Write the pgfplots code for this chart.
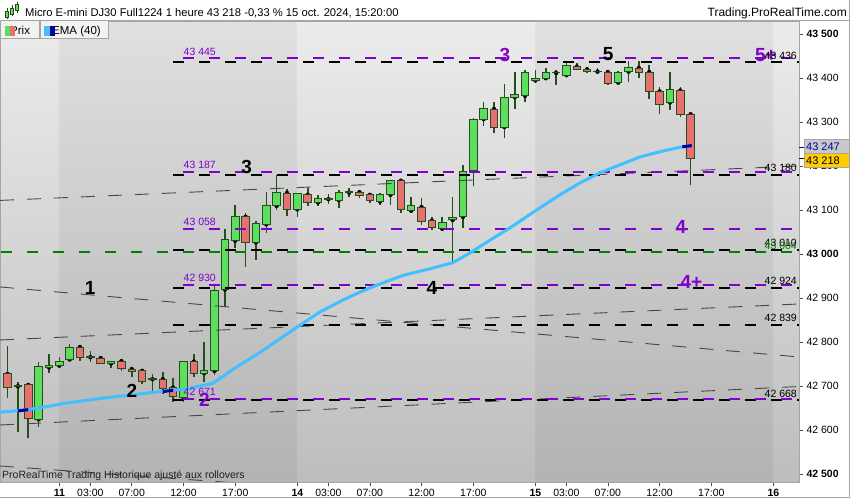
\documentclass[border=0pt]{standalone}
\usepackage{pgfplots}
\pgfplotsset{compat=1.18}
\usepackage{pgfplotstable}
\usepackage{fontspec}
\setmainfont{Liberation Sans}

\definecolor{upc}{RGB}{94,222,94}
\definecolor{dnc}{RGB}{232,112,112}
\definecolor{edgec}{RGB}{36,78,26}
\definecolor{purp}{RGB}{128,0,204}
\definecolor{emac}{RGB}{64,192,255}
\definecolor{emad}{RGB}{0,0,150}
\definecolor{gline}{RGB}{0,128,0}
\definecolor{ltop}{RGB}{236,236,236}
\definecolor{lbot}{RGB}{189,189,189}
\definecolor{dtop}{RGB}{224,224,224}
\definecolor{dbot}{RGB}{179,179,179}
\definecolor{framec}{RGB}{165,165,165}
\definecolor{boxg}{RGB}{200,200,200}
\definecolor{yel}{RGB}{255,204,0}

\newcommand{\fsz}[1]{\fontsize{#1}{#1}\selectfont}

% hourly candles: n = hour index (0 = 11 Oct 00:00)
\pgfplotstableread{
n o h l c
-5 42728 42792 42673 42698
-4 42700 42710 42597 42702
-3 42703 42707 42582 42627
-2 42625 42756 42608 42746
-1 42743 42773 42730 42748
0 42747 42766 42743 42756
1 42761 42796 42759 42789
2 42789 42794 42758 42766
3 42766 42781 42756 42768
4 42764 42765 42751 42752
5 42752 42758 42742 42757
6 42757 42758 42735 42741
7 42739 42741 42720 42733
8 42735 42736 42705 42710
9 42716 42728 42684 42718
10 42716 42732 42682 42695
11 42697 42718 42665 42676
12 42675 42758 42665 42756
13 42756 42773 42722 42730
14 42730 42801 42710 42735
15 42735 42930 42725 42917
16 42920 43058 42880 43034
17 43031 43112 43014 43085
18 43085 43093 42972 43027
19 43027 43076 42987 43070
20 43068 43141 43048 43110
21 43110 43179 43101 43141
22 43139 43148 43087 43102
23 43102 43139 43085 43137
24 43135 43150 43110 43118
25 43118 43135 43110 43127
26 43125 43137 43114 43127
27 43123 43146 43105 43141
28 43140 43150 43130 43142
29 43141 43145 43127 43133
30 43135 43139 43116 43123
31 43120 43139 43112 43135
32 43135 43169 43112 43167
33 43167 43169 43093 43102
34 43099 43129 43097 43110
35 43107 43127 43067 43074
36 43076 43085 43054 43061
37 43058 43084 43055 43073
38 43078 43130 42983 43084
39 43085 43203 43059 43188
40 43190 43309 43156 43307
41 43307 43345 43292 43332
42 43330 43345 43276 43289
43 43289 43387 43264 43357
44 43357 43414 43330 43362
45 43360 43419 43345 43414
46 43395 43419 43390 43400
47 43400 43423 43396 43414
48 43412 43419 43385 43413
49 43407 43435 43403 43430
50 43426 43434 43419 43420
51 43420 43426 43411 43415
52 43415 43423 43413 43416
53 43414 43415 43385 43389
54 43390 43417 43386 43414
55 43415 43440 43392 43425
56 43423 43440 43400 43413
57 43414 43430 43352 43370
58 43370 43381 43319 43341
59 43345 43415 43328 43375
60 43372 43381 43311 43318
61 43318 43320 43157 43218
}\candles

\pgfplotsset{
  base/.style={width=799pt, height=461pt,
    scale only axis, xmin=-5.73, xmax=71.47, ymin=42482.5, ymax=43530},
  blk/.style={black, line width=2pt, dash pattern=on 11pt off 15pt},
  pur/.style={purp, line width=2pt, dash pattern=on 11pt off 15pt, dash phase=15.85pt},
  grn/.style={gline, line width=2pt, dash pattern=on 11pt off 15pt, dash phase=24.7pt},
  trend/.style={black!72, line width=0.9pt, dash pattern=on 14pt off 13pt},
}

\begin{document}
\begin{tikzpicture}[x=1pt,y=1pt]
\useasboundingbox (0,0) rectangle (850,500);
\fill[white] (0,0) rectangle (850,500);

\begin{scope}[yshift=18pt]
% background bands and wicks
\begin{axis}[base, hide axis]
\fill[top color=ltop, bottom color=lbot] (axis cs:-5.73,43530) rectangle (axis cs:0,42482.5);
\fill[top color=dtop, bottom color=dbot] (axis cs:0,43530) rectangle (axis cs:23,42482.5);
\fill[top color=ltop, bottom color=lbot] (axis cs:23,43530) rectangle (axis cs:46,42482.5);
\fill[top color=dtop, bottom color=dbot] (axis cs:46,43530) rectangle (axis cs:69,42482.5);
\fill[top color=ltop, bottom color=lbot] (axis cs:69,43530) rectangle (axis cs:71.47,42482.5);
\addplot[only marks, mark=none, error bars/.cd, y dir=both, y explicit, error mark=none,
  error bar style={draw=edgec, line width=1.6pt}]
  table[x=n, y=o, y error plus expr=\thisrow{h}-\thisrow{o}, y error minus expr=\thisrow{o}-\thisrow{l}] {\candles};
\end{axis}

% candle bodies
\begin{axis}[base, hide axis, ybar stacked, bar width=7.5pt]
\addplot[draw=none, fill=none] table[x=n, y expr={min(\thisrow{o},\thisrow{c})}] {\candles};
\addplot[draw=edgec, fill=upc, line width=1pt] table[x=n, y expr={max(\thisrow{c}-\thisrow{o},0)}] {\candles};
\addplot[draw=edgec, fill=dnc, line width=1pt] table[x=n, y expr={max(\thisrow{o}-\thisrow{c},0)}] {\candles};
\end{axis}

% lines, EMA, axes
\begin{axis}[base,
  axis line style={draw=framec, line width=0.8pt},
  tick align=outside, major tick length=4pt,
  tick style={draw=black!70, line width=0.6pt},
  xtick pos=left, ytick pos=right, yticklabel pos=right,
  ytick={42500,42600,42700,42800,42900,43000,43100,43200,43300,43400,43500},
  yticklabels={\textbf{42 500},42 600,42 700,42 800,42 900,\textbf{43 000},43 100,43 200,43 300,43 400,\textbf{43 500}},
  xtick={0,3,7,12,17,23,26,30,35,40,46,49,53,58,63,69},
  xticklabels={\textbf{11},03:00,07:00,12:00,17:00,\textbf{14},03:00,07:00,12:00,17:00,\textbf{15},03:00,07:00,12:00,17:00,\textbf{16}},
  ticklabel style={font=\fsz{10.5}},
  y tick label style={anchor=west},
  ]
% trend lines
\addplot[trend] coordinates {(-5.73,43122.3) (71.47,43200.7)};
\addplot[trend] coordinates {(-5.73,42925.7) (71.47,42766.6)};
\addplot[trend] coordinates {(-5.73,42805.2) (71.47,42887.0)};
\addplot[trend] coordinates {(-5.73,42612.0) (71.47,42699.5)};
\addplot[trend] coordinates {(-5.73,42518.9) (71.47,42388.2)};
% horizontal levels
\addplot[grn] coordinates {(-5.73,43004) (71.47,43004)};
\addplot[blk] coordinates {(11,43436) (71.47,43436)};
\addplot[blk] coordinates {(11,43180) (71.47,43180)};
\addplot[blk] coordinates {(11,43010) (71.47,43010)};
\addplot[blk] coordinates {(11,42924) (71.47,42924)};
\addplot[blk] coordinates {(11,42839) (71.47,42839)};
\addplot[blk] coordinates {(11,42668) (71.47,42668)};
\addplot[pur] coordinates {(11,43445) (71.47,43445)};
\addplot[pur] coordinates {(11,43187) (71.47,43187)};
\addplot[pur] coordinates {(11,43058) (71.47,43058)};
\addplot[pur] coordinates {(11,42930) (71.47,42930)};
\addplot[pur] coordinates {(11,42671) (71.47,42671)};
% EMA 40
\addplot[emac, line width=3pt, line join=round] coordinates {
(-5.73,42641) (-3.8,42645) (-2.54,42649) (-0.9,42655) (0.71,42662) (2.65,42668)
(4.9,42675) (7.12,42681) (9.73,42688) (12.31,42694) (14.85,42707) (17.14,42744)
(19.39,42777) (21.33,42808) (23.26,42839) (25.2,42869) (27.41,42896) (29.06,42914)
(30.7,42930) (33.21,42952) (35.82,42967) (38.04,42981) (39.68,43003) (41.61,43032)
(43.54,43060) (46.15,43101) (48.37,43135) (50.3,43162) (52.23,43185) (54.16,43203)
(56.09,43221) (58.02,43233) (59.97,43243) (61.1,43247)};
\addplot[emad, line width=3pt] coordinates {(-4,42644) (-3,42647)};
\addplot[emad, line width=3pt] coordinates {(10,42688) (11,42691)};
\addplot[emad, line width=3pt] coordinates {(60.2,43244) (61.1,43247)};
% level labels
\begin{scope}[every node/.style={font=\fsz{10.5}, inner sep=0pt}]
\node[purp, anchor=south west, yshift=3pt] at (axis cs:12,43445) {43 445};
\node[purp, anchor=south west, yshift=3pt] at (axis cs:12,43187) {43 187};
\node[purp, anchor=south west, yshift=3pt] at (axis cs:12,43058) {43 058};
\node[purp, anchor=south west, yshift=3pt] at (axis cs:12,42930) {42 930};
\node[purp, anchor=south west, yshift=3pt] at (axis cs:12,42671) {42 671};
\end{scope}
% wave labels
\begin{scope}[every node/.style={font=\bfseries\fsz{19}, inner sep=0pt}]
\node[black] at (axis cs:2.97,42923) {1};
\node[black] at (axis cs:7.02,42690) {2};
\node[purp] at (axis cs:14.03,42669) {2};
\node[black] at (axis cs:18.09,43198) {3};
\node[purp] at (axis cs:43.06,43453) {3};
\node[black] at (axis cs:53.02,43455) {5};
\node[black] at (axis cs:36.01,42924) {4};
\node[purp] at (axis cs:60.07,43063) {4};
\node[purp] at (axis cs:61.08,42938) {4+};
\node[purp] at (axis cs:68.28,43453) {5+};
\end{scope}
\begin{scope}[every node/.style={font=\fsz{10.5}, inner sep=0pt, anchor=south east, yshift=3pt}]
\node[black] at (axis cs:71.28,43436) {43 436};
\node[black] at (axis cs:71.28,43180) {43 180};
\node[black] at (axis cs:71.28,43010) {43 010};
\node[gline] at (axis cs:71.28,43004) {43 004};
\node[black] at (axis cs:71.28,42924) {42 924};
\node[black] at (axis cs:71.28,42839) {42 839};
\node[black] at (axis cs:71.28,42668) {42 668};
\end{scope}
\end{axis}
\end{scope}

% price boxes on the right scale
\draw[framec, fill=boxg] (804,360.7) rectangle (849.5,346.7);
\node[anchor=west, inner sep=0pt, font=\fsz{11}, text=emad] at (806,353.7) {43 247};
\draw[framec, fill=yel] (804,346.7) rectangle (849.5,332.7);
\node[anchor=west, inner sep=0pt, font=\fsz{11}] at (806,339.7) {43 218};
\draw[emad, line width=1.2pt] (799,352.7) -- (804,352.7);
\draw[black, line width=1pt] (799,341.7) -- (804,341.7);

% header
\fill[white] (0,480) rectangle (850,500);
\draw[framec, line width=0.8pt] (0,479.6) -- (850,479.6);
\draw[edgec, line width=0.8pt] (7,492) -- (7,481);
\draw[edgec, fill=upc, line width=0.5pt] (5.5,489) rectangle (8.5,483);
\draw[edgec, line width=0.8pt] (12,495) -- (12,484);
\draw[edgec, fill=upc, line width=0.5pt] (10.5,492) rectangle (13.5,486);
\draw[edgec, line width=0.8pt] (17,498) -- (17,487);
\draw[edgec, fill=upc, line width=0.5pt] (15.5,496) rectangle (18.5,490);
\node[anchor=base west, inner sep=0pt, font=\fsz{11.2}] at (25,483.5)
  {Micro E-mini DJ30 Full1224 1 heure 43 218 -0,33 \% 15 oct. 2024, 15:20:00};
\node[anchor=base east, inner sep=0pt, font=\fsz{12}] at (847,483.5) {Trading.ProRealTime.com};

% legend boxes
\draw[framec, fill=black!5] (0.5,461.5) rectangle (39.5,479.5);
\node[anchor=base west, inner sep=0pt, font=\fsz{11.5}] at (10,465.5) {Prix};
\fill[upc] (5,463.5) rectangle (10,473.5);
\fill[dnc] (10,463.5) rectangle (15,473.5);
\draw[framec, fill=black!5] (40.5,461.5) rectangle (108.5,479.5);
\node[anchor=base west, inner sep=0pt, font=\fsz{11.5}] at (52,465.5) {EMA (40)};
\fill[emac] (44,463.5) rectangle (49.5,473.5);
\fill[emad] (49.5,463.5) rectangle (54.5,473.5);

% footer text and frame
\node[anchor=west, inner sep=0pt, font=\fsz{10.5}, text=black!88] at (2,24) {ProRealTime Trading Historique ajusté aux rollovers};
\draw[framec, line width=0.8pt] (0,2.5) -- (850,2.5);
\draw[framec, line width=0.8pt] (849.4,2.5) -- (849.4,500);
\end{tikzpicture}
\end{document}
